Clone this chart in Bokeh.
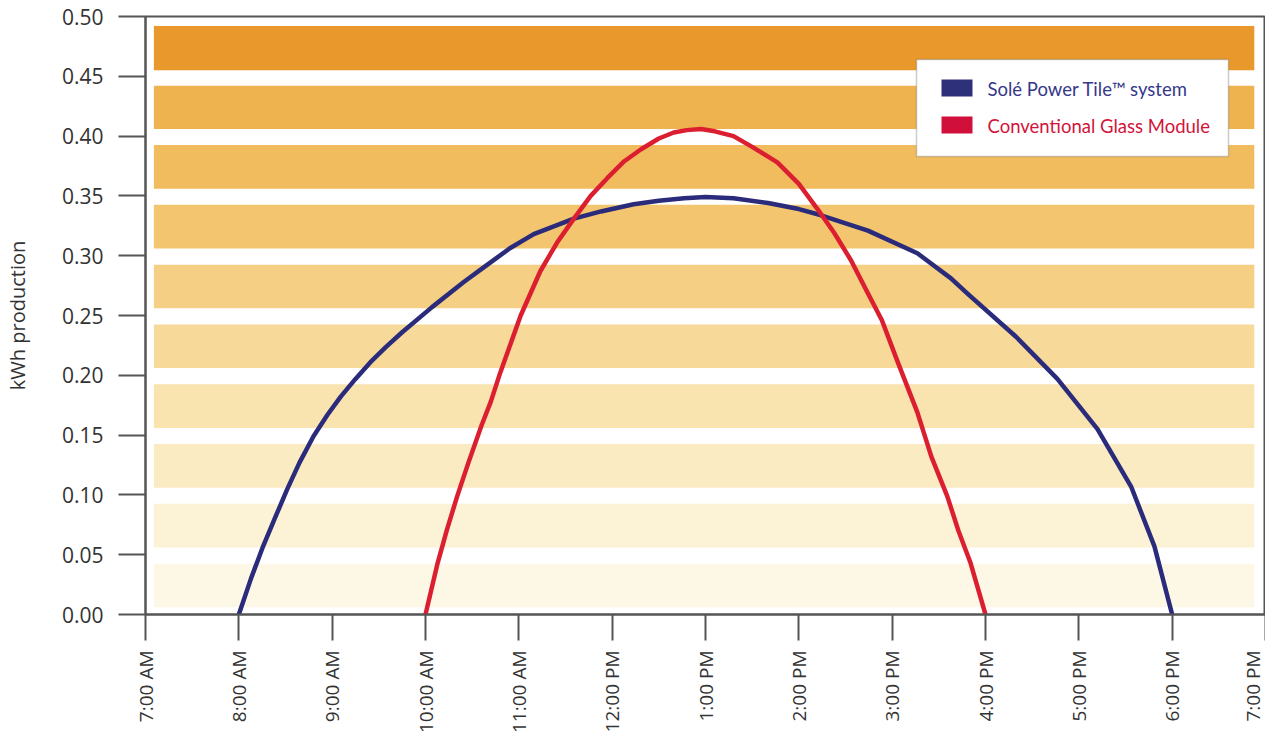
from bokeh.plotting import figure
from bokeh.models import FixedTicker, BoxAnnotation, Label, Range1d
from bokeh.embed import file_html
from bokeh.resources import INLINE

# ---------------- data ----------------
x_ticks = [7, 8, 9, 10, 11, 12, 13, 14, 15, 16, 17, 18, 19]
x_tick_labels = ["7:00 AM", "8:00 AM", "9:00 AM", "10:00 AM", "11:00 AM", "12:00 PM",
                 "1:00 PM", "2:00 PM", "3:00 PM", "4:00 PM", "5:00 PM", "6:00 PM", "7:00 PM"]
y_ticks = [0.0, 0.05, 0.10, 0.15, 0.20, 0.25, 0.30, 0.35, 0.40, 0.45, 0.50]
y_tick_labels = ["0.00", "0.05", "0.10", "0.15", "0.20", "0.25", "0.30", "0.35", "0.40", "0.45", "0.50"]

sole_hours = [8.0, 8.13, 8.26, 8.40, 8.52, 8.65, 8.80, 8.95, 9.09, 9.25, 9.41, 9.58, 9.75,
              10.07, 10.41, 10.62, 10.90, 11.16, 11.59, 11.88, 12.23, 12.50, 12.77, 13.0,
              13.30, 13.67, 14.0, 14.23, 14.74, 15.27, 15.63, 15.81, 16.33, 16.77,
              17.20, 17.56, 17.81, 18.0]
sole_kwh = [0.0, 0.030, 0.057, 0.083, 0.105, 0.127, 0.149, 0.167, 0.182, 0.197, 0.211, 0.224, 0.236,
            0.257, 0.278, 0.290, 0.306, 0.318, 0.331, 0.337, 0.343, 0.346, 0.348, 0.349,
            0.348, 0.344, 0.339, 0.334, 0.321, 0.302, 0.281, 0.268, 0.232, 0.197,
            0.155, 0.107, 0.057, 0.0]

glass_hours = [10.0, 10.13, 10.23, 10.34, 10.46, 10.60, 10.70, 10.80, 11.02, 11.23, 11.41,
               11.59, 11.77, 11.95, 12.13, 12.31, 12.50, 12.66, 12.80, 12.95, 13.10, 13.30,
               13.50, 13.77, 14.0, 14.20, 14.38, 14.56, 14.73, 14.89, 15.06, 15.27, 15.42,
               15.59, 15.71, 15.84, 16.0]
glass_kwh = [0.0, 0.043, 0.071, 0.099, 0.127, 0.158, 0.178, 0.202, 0.250, 0.287, 0.311,
             0.331, 0.350, 0.365, 0.379, 0.389, 0.398, 0.403, 0.405, 0.406, 0.404, 0.400,
             0.391, 0.378, 0.360, 0.339, 0.319, 0.296, 0.270, 0.246, 0.211, 0.169, 0.132,
             0.099, 0.070, 0.043, 0.0]

band_bottom = [0.006, 0.056, 0.106, 0.156, 0.206, 0.256, 0.306, 0.356, 0.406, 0.455]
band_top = [0.0425, 0.0925, 0.1425, 0.1925, 0.2425, 0.2925, 0.3425, 0.3925, 0.4420, 0.4920]
band_colors = ["#FDF7E6", "#FCF2D6", "#FAEBC3", "#F9E3AE", "#F7D99A", "#F5CF83",
               "#F3C56E", "#F1BC5D", "#EEB24F", "#E9982C"]
band_left = 7.09
band_right = 18.88

series_names = ["Solé Power Tile™ system", "Conventional Glass Module"]
series_colors = ["#2B2B7B", "#DC1F30"]
legend_swatch_colors = ["#2E3179", "#D0103A"]
legend_text_colors = ["#35388A", "#D2143A"]

# ---------------- figure ----------------
p = figure(width=1265, height=735, output_backend="svg", toolbar_location=None,
           x_range=Range1d(7, 19), y_range=Range1d(0, 0.5),
           min_border_left=145, min_border_right=0, min_border_top=16, min_border_bottom=119)
p.background_fill_color = "white"
p.border_fill_color = "white"
p.outline_line_color = "#555555"
p.outline_line_width = 2
p.xgrid.visible = False
p.ygrid.visible = False

# bands
p.quad(left=[band_left] * len(band_bottom), right=[band_right] * len(band_bottom),
       bottom=band_bottom, top=band_top, fill_color=band_colors, line_color=None)

# curves
p.line(sole_hours, sole_kwh, line_color=series_colors[0], line_width=4.5, line_join="round")
p.line(glass_hours, glass_kwh, line_color=series_colors[1], line_width=4.5, line_join="round")

# axes
font = "Open Sans"
for ax in (p.xaxis[0], p.yaxis[0]):
    ax.axis_line_color = "#555555"
    ax.axis_line_width = 2
    ax.major_tick_line_color = "#555555"
    ax.major_tick_line_width = 2
    ax.major_tick_in = 0
    ax.minor_tick_line_color = None
    ax.major_label_text_font = font
    ax.major_label_text_color = "#333333"

p.xaxis.ticker = FixedTicker(ticks=x_ticks)
p.xaxis.major_label_overrides = {t: l for t, l in zip(x_ticks, x_tick_labels)}
p.xaxis.major_label_orientation = 3.14159265 / 2
p.xaxis.major_tick_out = 26
p.xaxis.major_label_standoff = 10
p.xaxis.major_label_text_font_size = "19px"

p.yaxis.ticker = FixedTicker(ticks=y_ticks)
p.yaxis.major_label_overrides = {t: l for t, l in zip(y_ticks, y_tick_labels)}
p.yaxis.major_tick_out = 27
p.yaxis.major_label_standoff = 15
p.yaxis.major_label_text_font_size = "21px"
p.yaxis.axis_label = "kWh production"
p.yaxis.axis_label_text_font = font
p.yaxis.axis_label_text_font_style = "normal"
p.yaxis.axis_label_text_font_size = "20px"
p.yaxis.axis_label_text_color = "#333333"
p.yaxis.axis_label_standoff = 28

# legend (frame-relative screen units)
p.add_layout(BoxAnnotation(left=771, right=1083, bottom=458, top=555,
                           left_units="screen", right_units="screen",
                           bottom_units="screen", top_units="screen",
                           fill_color="white", fill_alpha=1.0,
                           line_color="#555555", line_width=1.5, level="overlay"))
swatch_bottoms = [518, 481]
text_mids = [526, 489]
legend_font = "Lato"
for i in range(2):
    p.add_layout(BoxAnnotation(left=796, right=827, bottom=swatch_bottoms[i], top=swatch_bottoms[i] + 17,
                               left_units="screen", right_units="screen",
                               bottom_units="screen", top_units="screen",
                               fill_color=legend_swatch_colors[i], fill_alpha=1.0,
                               line_color=None, level="overlay"))
    p.add_layout(Label(x=842, y=text_mids[i], x_units="screen", y_units="screen",
                       text=series_names[i], text_font=legend_font, text_font_size="18.5px",
                       text_color=legend_text_colors[i], text_baseline="middle",
                       text_align="left", level="overlay"))

open("out.html", "w").write(file_html(p, INLINE))
